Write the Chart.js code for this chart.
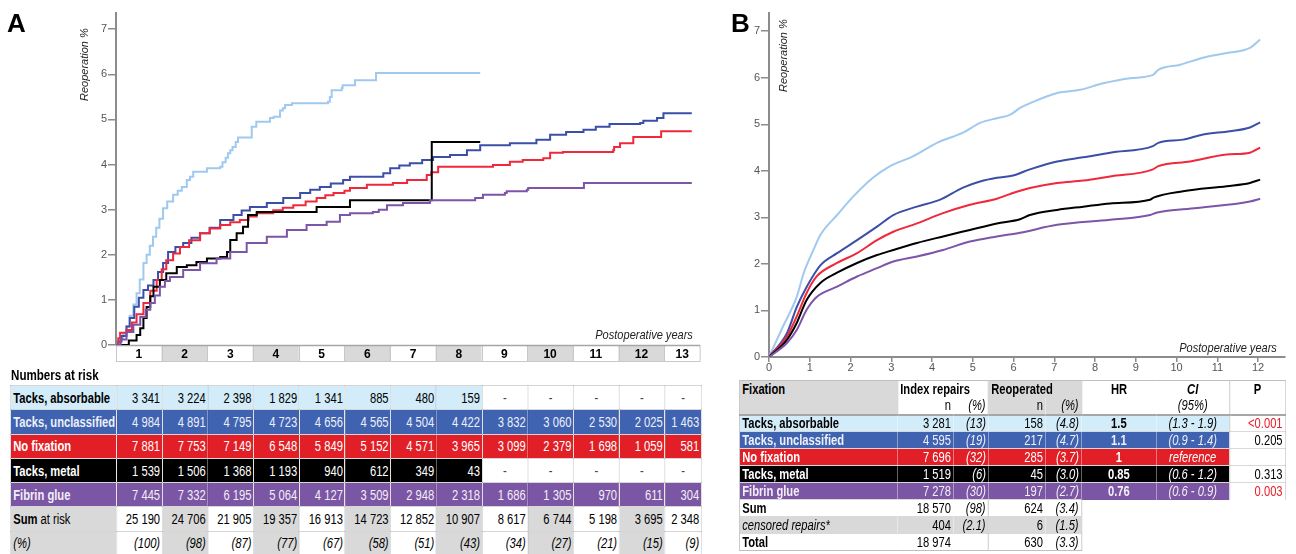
<!DOCTYPE html>
<html><head><meta charset="utf-8">
<script src="https://cdn.jsdelivr.net/npm/chart.js@4.4.0/dist/chart.umd.min.js"></script>
<style>
html,body{margin:0;padding:0;background:#fff;width:1296px;height:554px;overflow:hidden;position:relative;font-family:"Liberation Sans",Arial,sans-serif;}
.abs{position:absolute;}
canvas{position:absolute;top:0;}
.panel{position:absolute;font-weight:bold;font-size:26px;line-height:26px;color:#000;}
.ytitle{position:absolute;font-style:italic;font-size:11px;line-height:13px;color:#222;transform:rotate(-90deg);transform-origin:left top;white-space:nowrap;}
.xtitle{position:absolute;font-style:italic;font-size:13px;line-height:15px;color:#222;white-space:nowrap;transform:scaleX(0.85);transform-origin:right top;}
.sq{position:absolute;transform:scaleX(0.8);transform-origin:left top;}
table{border-collapse:collapse;table-layout:fixed;}
#tA td{height:24.3px;padding:0 2px;font-size:14px;line-height:16px;white-space:nowrap;overflow:hidden;text-align:right;border:1px solid rgba(0,0,0,0.16);box-sizing:border-box;}
#tA td.lab{text-align:left;font-weight:bold;padding-left:3px;}
#tA tr.sum td.lab,#tA tr.pct td.lab{font-weight:normal;}
#tA td.dash{background:#fff;color:#444;text-align:center;}
.rAbs td{background:#d3ecf9;color:#000;}
.rUncl td{background:#3f63b1;color:#eef0f8;}
.rNone td{background:#e21f26;color:#fff;}
.rMetal td{background:#000;color:#fff;}
.rFib td{background:#7b56a4;color:#f2eef6;}
td.g{background:#d9d9d9;}
td.w{background:#fff;}
#tB td{height:17px;padding:0 3px;font-size:14px;line-height:15px;white-space:nowrap;overflow:hidden;box-sizing:border-box;text-align:right;}
#tB td.lab{text-align:left;font-weight:bold;}
#tB td.c{text-align:center;}
#tB td.it{font-style:italic;}
#tB tr.dr td{border-top:1px solid rgba(0,0,0,0.15);}
#tB td.pv{background:#fff;color:#000;}
#tB td.red{color:#e8202a;}
</style>
</head><body>
<canvas id="cA" width="720" height="370" style="left:0"></canvas>
<canvas id="cB" width="566" height="375" style="left:730px"></canvas>
<div class="panel" style="left:7px;top:10px;">A</div>
<div class="panel" style="left:731px;top:10px;">B</div>
<div class="ytitle" style="left:78px;top:101px;">Reoperation %</div>
<div class="ytitle" style="left:777px;top:92px;">Reoperation %</div>
<div class="xtitle" style="right:603px;top:327px;">Postoperative years</div>
<div class="xtitle" style="right:19px;top:340px;">Postoperative years</div>
<div class="sq" style="left:11px;top:367px;font-weight:bold;font-size:14.5px;line-height:17px;white-space:nowrap;">Numbers at risk</div>
<div class="sq" style="left:10px;top:385px;"><table id="tA"></table></div>
<div class="sq" style="left:739px;top:380px;"><table id="tB"></table></div>
<script>
// ---------- data ----------
const yTicks = [0,1,2,3,4,5,6,7];
const yearLabelsA = ['1','2','3','4','5','6','7','8','9','10','11','12','13'];
const yearTicksB = [0,1,2,3,4,5,6,7,8,9,10,11,12];
const seriesNames = ['Tacks, absorbable','Tacks, unclassified','No fixation','Tacks, metal','Fibrin glue'];

// Panel A: cumulative reoperation (%), step points [year, %]
const aAbs = [[0,0],[0.05,0.05],[0.1,0.15],[0.15,0.25],[0.23,0.41],[0.3,0.65],[0.38,0.9],[0.45,1.15],[0.52,1.45],[0.6,1.82],[0.67,2.0],[0.74,2.2],[0.81,2.4],[0.88,2.6],[0.95,2.8],[1.03,3.03],[1.12,3.18],[1.25,3.33],[1.35,3.42],[1.44,3.5],[1.55,3.66],[1.62,3.73],[1.69,3.84],[1.99,3.92],[2.28,3.95],[2.33,4.05],[2.4,4.15],[2.45,4.25],[2.5,4.32],[2.55,4.39],[2.62,4.5],[2.67,4.6],[2.97,4.84],[3.07,4.95],[3.37,5.03],[3.45,5.06],[3.59,5.2],[3.65,5.25],[3.7,5.32],[3.85,5.36],[4.64,5.39],[4.68,5.5],[4.72,5.65],[4.94,5.70],[4.96,5.76],[5.23,5.87],[5.69,6.03],[7.97,6.03]];
const aUncl = [[0,0],[0.05,0.08],[0.12,0.2],[0.23,0.41],[0.3,0.6],[0.4,0.85],[0.5,1.05],[0.6,1.22],[0.7,1.32],[0.82,1.44],[0.92,1.62],[1.03,1.82],[1.14,2.06],[1.3,2.17],[1.47,2.26],[1.65,2.38],[1.84,2.48],[2.05,2.6],[2.28,2.77],[2.57,2.88],[2.75,2.98],[2.93,3.06],[3.3,3.15],[3.66,3.26],[4.03,3.37],[4.25,3.44],[4.46,3.5],[4.7,3.58],[4.97,3.66],[5.12,3.73],[5.85,3.81],[6.0,3.92],[6.2,3.98],[6.43,4.03],[6.7,4.1],[6.94,4.17],[7.31,4.21],[7.68,4.32],[7.97,4.43],[8.62,4.47],[9.2,4.55],[9.5,4.66],[9.85,4.72],[10.23,4.77],[10.5,4.84],[10.8,4.9],[11.47,4.92],[11.54,4.97],[11.84,5.03],[11.98,5.14],[12.6,5.14]];
const aNone = [[0,0],[0.05,0.15],[0.09,0.27],[0.23,0.33],[0.35,0.5],[0.45,0.68],[0.6,0.93],[0.75,1.2],[0.89,1.44],[1.0,1.68],[1.1,1.88],[1.25,2.03],[1.4,2.17],[1.6,2.32],[1.84,2.48],[2.05,2.58],[2.28,2.66],[2.5,2.72],[2.71,2.77],[2.9,2.85],[3.08,2.92],[3.44,2.99],[3.65,3.04],[3.88,3.1],[4.15,3.18],[4.39,3.26],[4.58,3.32],[4.76,3.37],[5.0,3.42],[5.12,3.48],[5.49,3.55],[6.06,3.59],[6.37,3.66],[6.8,3.77],[6.9,3.83],[7.05,3.95],[8.25,3.99],[8.62,4.06],[8.9,4.1],[9.35,4.14],[9.5,4.26],[9.78,4.28],[10.88,4.32],[10.9,4.39],[11.03,4.47],[11.32,4.61],[11.93,4.74],[12.6,4.74]];
const aMetal = [[0,0],[0.2,0],[0.28,0.1],[0.45,0.22],[0.53,0.37],[0.6,0.6],[0.67,0.84],[0.75,1.08],[0.82,1.29],[0.96,1.44],[1.1,1.59],[1.33,1.73],[1.55,1.77],[1.76,1.84],[1.99,1.92],[2.28,1.95],[2.43,2.06],[2.5,2.33],[2.64,2.48],[2.78,2.62],[2.89,2.88],[3.08,2.95],[4.39,3.06],[5.12,3.21],[6.91,4.5],[7.97,4.5]];
const aFib = [[0,0],[0.1,0.12],[0.23,0.29],[0.38,0.45],[0.53,0.62],[0.65,0.78],[0.75,0.93],[0.85,1.1],[0.96,1.29],[1.07,1.42],[1.18,1.51],[1.47,1.66],[1.84,1.81],[2.2,1.92],[2.5,2.06],[2.86,2.26],[3.3,2.4],[3.74,2.55],[4.17,2.66],[4.61,2.73],[4.9,2.88],[5.12,2.92],[5.62,2.95],[5.75,3.0],[5.93,3.1],[6.28,3.15],[6.87,3.21],[7.86,3.26],[8.03,3.33],[8.51,3.37],[8.55,3.41],[8.99,3.44],[9.02,3.48],[10.24,3.59],[12.6,3.59]];

// Panel B: adjusted curves [year, %]
const bAbs = [[0,0],[0.34,0.65],[0.68,1.29],[0.85,1.8],[1.09,2.3],[1.26,2.62],[1.67,3.05],[2.07,3.45],[2.55,3.85],[2.97,4.1],[3.53,4.31],[4.12,4.6],[4.76,4.82],[5.18,5.03],[5.59,5.13],[5.91,5.2],[6.16,5.35],[6.4,5.45],[7.07,5.67],[7.63,5.74],[8.2,5.88],[8.86,5.99],[9.42,6.06],[9.55,6.17],[10.09,6.28],[10.65,6.43],[11.23,6.53],[11.8,6.64],[12.05,6.82]];
const bUncl = [[0,0],[0.44,0.51],[0.68,1.07],[0.92,1.5],[1.26,1.97],[1.67,2.23],[2.16,2.51],[2.65,2.8],[3.05,3.05],[3.63,3.23],[4.2,3.38],[4.76,3.64],[5.18,3.77],[5.59,3.85],[5.99,3.9],[6.4,4.03],[7.07,4.2],[7.71,4.29],[8.37,4.39],[9.42,4.53],[9.55,4.6],[10.16,4.67],[10.65,4.78],[11.31,4.85],[11.8,4.93],[12.05,5.04]];
const bNone = [[0,0],[0.44,0.44],[0.68,0.87],[0.92,1.37],[1.17,1.73],[1.67,2.02],[2.16,2.23],[2.65,2.51],[3.05,2.69],[3.63,2.87],[4.27,3.09],[4.93,3.27],[5.59,3.4],[5.91,3.5],[6.4,3.63],[7.07,3.74],[7.71,3.79],[8.37,3.88],[9.42,4.03],[9.55,4.1],[10.33,4.2],[11.23,4.35],[11.8,4.39],[12.05,4.5]];
const bMetal = [[0,0],[0.44,0.37],[0.68,0.73],[0.92,1.22],[1.26,1.59],[1.67,1.81],[2.16,2.02],[2.65,2.19],[3.05,2.3],[3.63,2.45],[4.27,2.59],[4.93,2.73],[5.59,2.87],[6.16,2.96],[6.4,3.05],[7.07,3.16],[7.71,3.23],[8.37,3.3],[9.35,3.38],[9.45,3.43],[10.16,3.56],[11.23,3.67],[11.8,3.74],[12.05,3.81]];
const bFib = [[0,0],[0.44,0.3],[0.68,0.58],[0.92,1.01],[1.17,1.29],[1.67,1.51],[2.16,1.73],[2.65,1.91],[3.05,2.05],[3.63,2.16],[4.27,2.3],[4.93,2.48],[5.59,2.59],[6.16,2.67],[7.07,2.84],[8.37,2.95],[9.35,3.05],[9.5,3.1],[10.5,3.2],[11.8,3.34],[12.05,3.4]];

// Numbers at risk (null = "-")
const riskAbs = [3341,3224,2398,1829,1341,885,480,159,null,null,null,null,null];
const riskUncl = [4984,4891,4795,4723,4656,4565,4504,4422,3832,3060,2530,2025,1463];
const riskNone = [7881,7753,7149,6548,5849,5152,4571,3965,3099,2379,1698,1059,581];
const riskMetal = [1539,1506,1368,1193,940,612,349,43,null,null,null,null,null];
const riskFib = [7445,7332,6195,5064,4127,3509,2948,2318,1686,1305,970,611,304];
const sumAtRisk = [25190,24706,21905,19357,16913,14723,12852,10907,8617,6744,5198,3695,2348];
const sumPct = [100,98,87,77,67,58,51,43,34,27,21,15,9];

// Table B
const indexN = [3281,4595,7696,1519,7278];
const indexPct = ['13','19','32','6','30'];
const reopN = [158,217,285,45,197];
const reopPct = ['4.8','4.7','3.7','3.0','2.7'];
const hrVals = ['1.5','1.1','1','0.85','0.76'];
const ciVals = ['(1.3 - 1.9)','(0.9 - 1.4)','reference','(0.6 - 1.2)','(0.6 - 0.9)'];
const pVals = ['<0.001','0.205','','0.313','0.003'];
const pRed = [true,false,false,false,true];
const sumRow = {n:18570,pct:'98',rn:624,rpct:'3.4'};
const censRow = {n:404,pct:'2.1',rn:6,rpct:'1.5'};
const totRow = {n:18974,pct:'',rn:630,rpct:'3.3'};

// ---------- styles ----------
const SQ = 0.8; // horizontal squeeze of table text
const lineCols = ['#9fc9ef','#3c4fa6','#f0283c','#000000','#7d55a8'];
const rowCls = ['rAbs','rUncl','rNone','rMetal','rFib'];

const fmt = v => String(v).replace(/\B(?=(\d{3})+(?!\d))/g,' ');
const toXY = arr => arr.map(p=>({x:p[0],y:p[1]}));

// ---------- chart A ----------
const stripPlugin = {
  id:'strip',
  beforeDraw(chart){
    const ctx=chart.ctx, xs=chart.scales.x, b=chart.chartArea.bottom, h=16;
    ctx.save();
    for(let i=0;i<yearLabelsA.length;i++){
      const x0=xs.getPixelForValue(i), x1=xs.getPixelForValue(Math.min(i+1,xs.max));
      ctx.fillStyle = i%2 ? '#d9d9d9' : '#ffffff';
      ctx.fillRect(x0,b,x1-x0,h);
      ctx.strokeStyle='#c8c8c8'; ctx.lineWidth=1;
      ctx.strokeRect(Math.round(x0)+0.5,b+0.5,x1-x0,h);
    }
    ctx.strokeStyle='#a6a6a6'; ctx.lineWidth=1.5;
    ctx.beginPath(); ctx.moveTo(xs.left,b+0.5); ctx.lineTo(xs.right,b+0.5); ctx.stroke();
    ctx.restore();
  }
};
const dsA = [aFib,aMetal,aNone,aUncl,aAbs];
const colA = [lineCols[4],lineCols[3],lineCols[2],lineCols[1],lineCols[0]];
const nameA = [seriesNames[4],seriesNames[3],seriesNames[2],seriesNames[1],seriesNames[0]];
new Chart(document.getElementById('cA'),{
  type:'line',
  data:{datasets:dsA.map((d,i)=>({label:nameA[i],data:toXY(d),borderColor:colA[i],borderWidth:2,stepped:true,pointRadius:0,fill:false}))},
  options:{
    responsive:false,animation:false,devicePixelRatio:1,
    plugins:{legend:{display:false},tooltip:{enabled:false}},
    layout:{padding:{top:13,right:20,left:0,bottom:0}},
    scales:{
      x:{type:'linear',min:0,max:12.78,
        afterFit:s=>{s.height=25;},
        afterBuildTicks:s=>{s.ticks=yearLabelsA.map((l,i)=>({value:i<12?i+0.5:12.39}));},
        ticks:{callback:(v,i)=>yearLabelsA[i],autoSkip:false,maxRotation:0,color:'#000',padding:2,font:{family:'Liberation Sans',size:12,weight:'bold'}},
        grid:{display:false,drawTicks:false},border:{display:false}},
      y:{min:0,max:7.36,
        afterFit:s=>{s.width=116;},
        afterBuildTicks:s=>{s.ticks=yTicks.map(v=>({value:v}));},
        ticks:{color:'#555',padding:1,font:{family:'Liberation Sans',size:11}},
        grid:{drawOnChartArea:false,tickLength:8,color:'#8c8c8c',lineWidth:1.5},
        border:{color:'#8c8c8c',width:2}}
    }
  },
  plugins:[stripPlugin]
});

// ---------- chart B ----------
const dsB = [bFib,bMetal,bNone,bUncl,bAbs];
new Chart(document.getElementById('cB'),{
  type:'line',
  data:{datasets:dsB.map((d,i)=>({label:nameA[i],data:toXY(d),borderColor:colA[i],borderWidth:2,cubicInterpolationMode:'monotone',pointRadius:0,fill:false}))},
  options:{
    responsive:false,animation:false,devicePixelRatio:1,
    plugins:{legend:{display:false},tooltip:{enabled:false}},
    layout:{padding:{top:13,right:11,left:0,bottom:0}},
    scales:{
      x:{type:'linear',min:0,max:12.66,
        afterFit:s=>{s.height=18;},
        afterBuildTicks:s=>{s.ticks=yearTicksB.map(v=>({value:v}));},
        ticks:{color:'#555',padding:-1,maxRotation:0,autoSkip:false,font:{family:'Liberation Sans',size:11}},
        grid:{drawOnChartArea:false,tickLength:5,color:'#8c8c8c',lineWidth:1.5},
        border:{color:'#8c8c8c',width:2}},
      y:{min:0,max:7.39,
        afterFit:s=>{s.width=39;},
        afterBuildTicks:s=>{s.ticks=yTicks.map(v=>({value:v}));},
        ticks:{color:'#555',padding:1,font:{family:'Liberation Sans',size:11}},
        grid:{drawOnChartArea:false,tickLength:8,color:'#8c8c8c',lineWidth:1.5},
        border:{color:'#8c8c8c',width:2}}
    }
  }
});

// ---------- table A ----------
(function(){
  const colW=[106].concat(Array(12).fill(45.7)).concat([36.4]).map(w=>w/SQ);
  const rows=[riskAbs,riskUncl,riskNone,riskMetal,riskFib];
  let h='<colgroup>'+colW.map(w=>'<col style="width:'+w+'px">').join('')+'</colgroup>';
  rows.forEach((r,k)=>{
    h+='<tr class="'+rowCls[k]+'"><td class="lab">'+seriesNames[k]+'</td>'+r.map(v=>v==null?'<td class="dash">-</td>':'<td>'+fmt(v)+'</td>').join('')+'</tr>';
  });
  h+='<tr class="sum"><td class="lab g"><b>Sum</b> at risk</td>'+sumAtRisk.map((v,i)=>'<td class="'+(i%2?'g':'w')+'">'+fmt(v)+'</td>').join('')+'</tr>';
  h+='<tr class="pct"><td class="lab g"><i>(%)</i></td>'+sumPct.map((v,i)=>'<td class="'+(i%2?'g':'w')+'"><i>('+v+')</i></td>').join('')+'</tr>';
  const t=document.getElementById('tA');
  t.style.width=colW.reduce((a,b)=>a+b,0)+'px';
  t.innerHTML=h;
})();

// ---------- table B ----------
(function(){
  const colW=[158,56,35,57,36,75,73,56].map(w=>w/SQ);
  let h='<colgroup>'+colW.map(w=>'<col style="width:'+w+'px">').join('')+'</colgroup>';
  const bd='border-left:1px solid #bfbfbf;';
  h+='<tr><td class="lab g" rowspan="2" style="vertical-align:top;border-left:1px solid #bfbfbf;border-top:1px solid #bfbfbf;border-bottom:2px solid #a6a6a6;padding-top:1px">Fixation</td>'+
     '<td colspan="2" class="lab w" style="border-top:1px solid #bfbfbf;'+bd+'">Index repairs</td>'+
     '<td colspan="2" class="lab g" style="border-top:1px solid #bfbfbf;'+bd+'">Reoperated</td>'+
     '<td class="c w" style="font-weight:bold;border-top:1px solid #bfbfbf;'+bd+'">HR</td>'+
     '<td class="c w" style="font-weight:bold;font-style:italic;border-top:1px solid #bfbfbf;">CI</td>'+
     '<td class="c w" style="font-weight:bold;border-top:1px solid #bfbfbf;border-right:1px solid #bfbfbf;'+bd+'">P</td></tr>';
  const bb='border-bottom:2px solid #a6a6a6;';
  h+='<tr><td class="w" style="'+bb+bd+'">n</td><td class="w it" style="'+bb+'">(%)</td>'+
     '<td class="g" style="'+bb+bd+'">n</td><td class="g it" style="'+bb+'">(%)</td>'+
     '<td class="w" style="'+bb+bd+'"></td><td class="w it c" style="'+bb+'">(95%)</td><td class="w" style="'+bb+'border-right:1px solid #bfbfbf;'+bd+'"></td></tr>';
  for(let k=0;k<5;k++){
    h+='<tr class="dr '+rowCls[k]+'"><td class="lab" style="border-left:1px solid #bfbfbf">'+seriesNames[k]+'</td>'+
      '<td>'+fmt(indexN[k])+'</td><td class="it">('+indexPct[k]+')</td>'+
      '<td>'+fmt(reopN[k])+'</td><td class="it">('+reopPct[k]+')</td>'+
      '<td class="c" style="font-weight:bold">'+hrVals[k]+'</td><td class="c it">'+ciVals[k]+'</td>'+
      '<td class="pv'+(pRed[k]?' red':'')+'" style="border-right:1px solid #bfbfbf;'+bd+'">'+pVals[k].replace('<','&lt;')+'</td></tr>';
  }
  const extra=[['Sum',sumRow,'w','font-weight:bold'],['censored repairs*',censRow,'g','font-weight:normal;font-style:italic'],['Total',totRow,'w','font-weight:bold']];
  extra.forEach(e=>{
    const r=e[1], c=e[2], last=(e[0]==='Total'?'border-bottom:1px solid #bfbfbf;':'');
    h+='<tr class="dr"><td class="lab '+c+'" style="'+e[3]+';border-left:1px solid #bfbfbf;'+last+'">'+e[0]+'</td>'+
      '<td class="'+c+'" style="'+last+'">'+fmt(r.n)+'</td><td class="'+c+' it" style="'+last+'">'+(r.pct?'('+r.pct+')':'')+'</td>'+
      '<td class="'+c+'" style="'+bd+last+'">'+fmt(r.rn)+'</td><td class="'+c+' it" style="border-right:1px solid #bfbfbf;'+last+'">('+r.rpct+')</td></tr>';
  });
  const t=document.getElementById('tB');
  t.style.width=colW.reduce((a,b)=>a+b,0)+'px';
  t.innerHTML=h;
})();
</script>
</body></html>
